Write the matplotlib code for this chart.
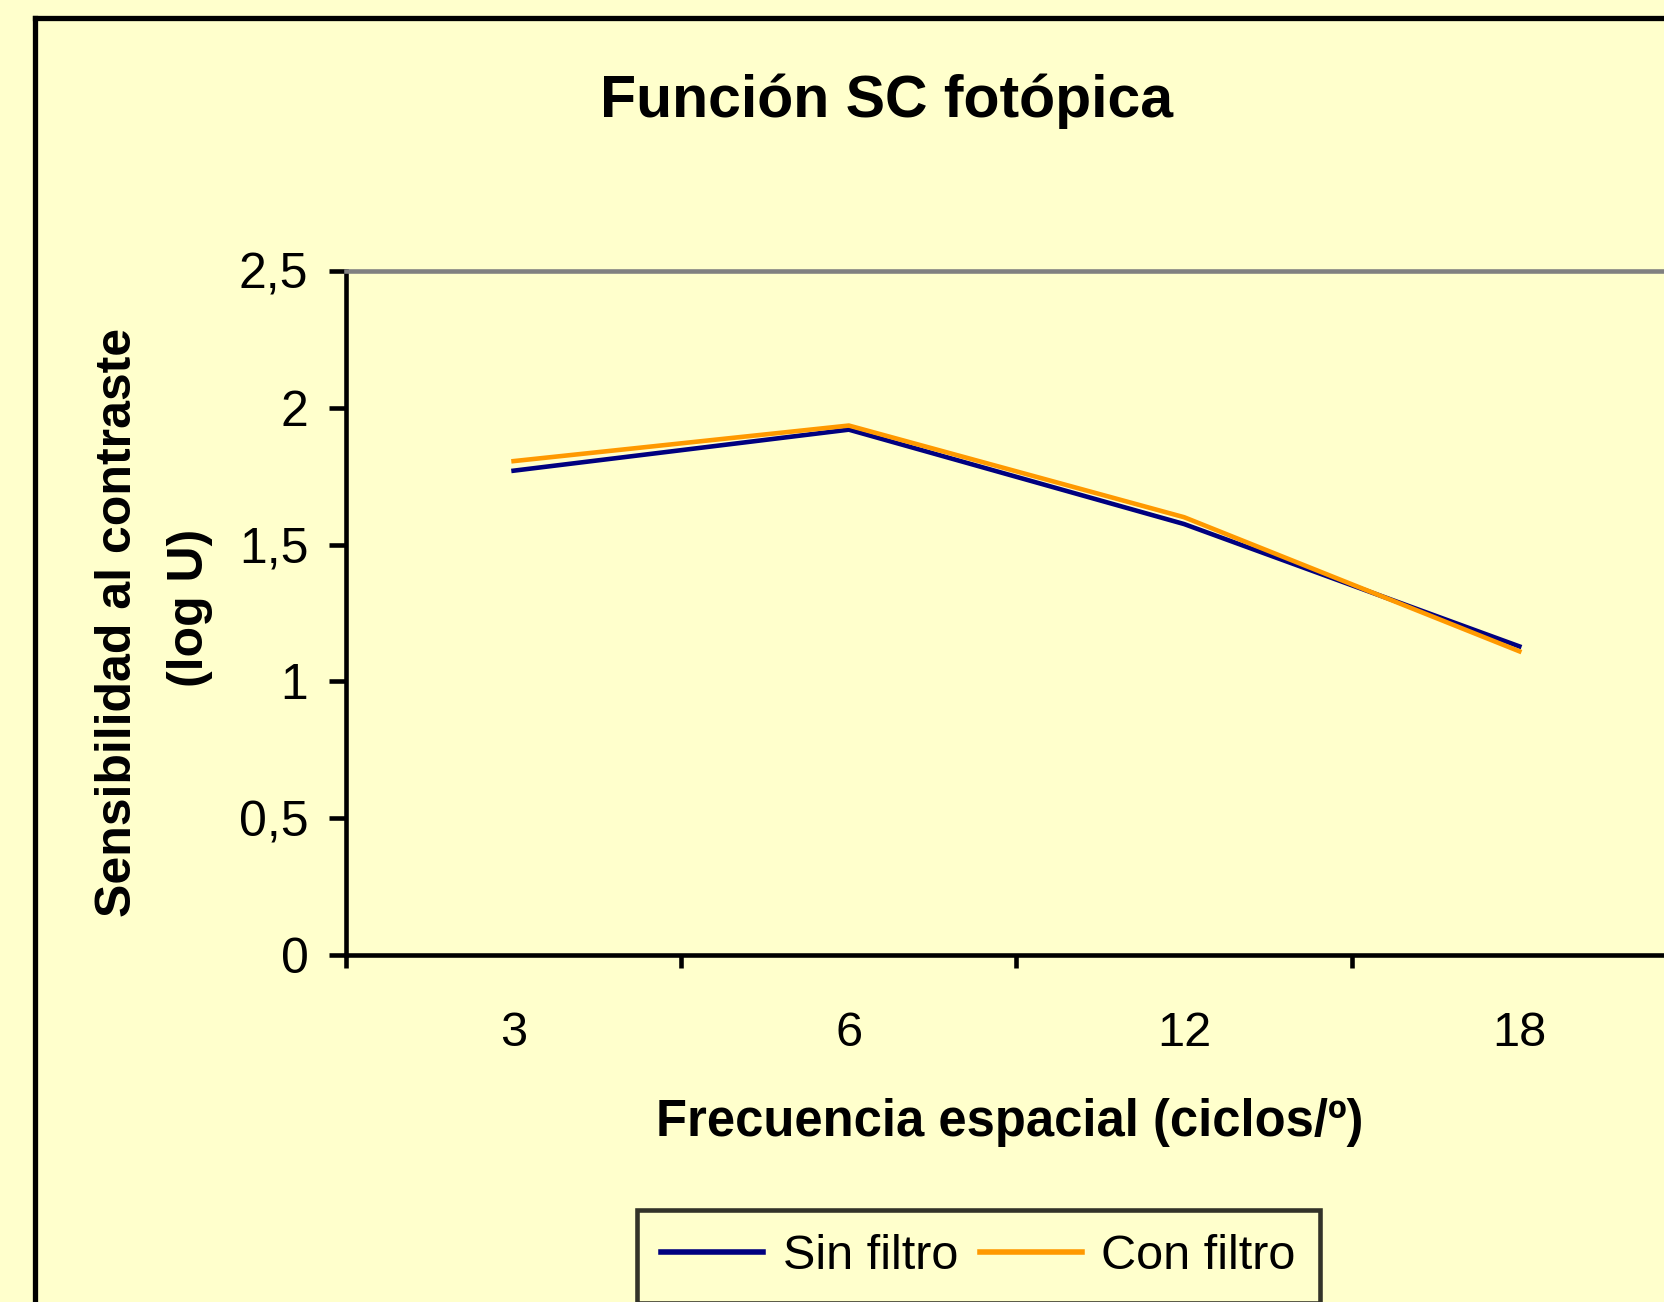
#!/usr/bin/env python3
"""Contrast sensitivity function (photopic), with and without filter."""

import matplotlib
matplotlib.use("Agg")
import matplotlib.pyplot as plt
from matplotlib.lines import Line2D

frequencies = ["3", "6", "12", "18"]
sin_filtro = [1.77, 1.92, 1.575, 1.128]
con_filtro = [1.805, 1.935, 1.60, 1.11]
y_ticks = [0, 0.5, 1, 1.5, 2, 2.5]
y_tick_labels = ["0", "0,5", "1", "1,5", "2", "2,5"]

BG = "#FFFFCC"
NAVY = "#000080"
ORANGE = "#FF9900"

plt.rcParams["font.family"] = ["Liberation Sans", "DejaVu Sans"]

fig = plt.figure(figsize=(16.64, 13.02), dpi=100, facecolor=BG)

# outer chart border (runs off the right and bottom edges)
fig.add_artist(Line2D([0.021, 0.021], [-0.1, 0.986], color="black", lw=3.8,
                      transform=fig.transFigure, solid_capstyle="projecting"))
fig.add_artist(Line2D([0.021, 1.1], [0.986, 0.986], color="black", lw=3.8,
                      transform=fig.transFigure, solid_capstyle="projecting"))

ax = fig.add_axes([0.2079, 0.2665, 0.8059, 0.5254])
ax.set_facecolor(BG)

xs = list(range(len(frequencies)))
ax.plot(xs, sin_filtro, color=NAVY, lw=3.3, label="Sin filtro")
ax.plot(xs, con_filtro, color=ORANGE, lw=3.3, label="Con filtro")

ax.set_xlim(-0.5, len(frequencies) - 0.5)
ax.set_ylim(0, 2.5)

ax.set_xticks([i - 0.5 for i in range(len(frequencies) + 1)])
ax.set_xticklabels([])
ax.set_xticks(xs, minor=True)
ax.set_xticklabels(frequencies, minor=True, fontsize=35)
ax.tick_params(axis="x", which="major", direction="out", length=9, width=3.3)
ax.tick_params(axis="x", which="minor", length=0, pad=40)

ax.set_yticks(y_ticks)
ax.set_yticklabels(y_tick_labels, fontsize=36)
ax.tick_params(axis="y", direction="out", length=12, width=3.3, pad=15)

for side in ("left", "bottom"):
    ax.spines[side].set_linewidth(3.3)
    ax.spines[side].set_color("black")
ax.spines["top"].set_color("#808080")
ax.spines["top"].set_linewidth(3.3)
ax.spines["right"].set_visible(False)

fig.text(0.5325, 0.922, "Función SC fotópica", ha="center", va="center",
         fontsize=42.5, fontweight="bold")
fig.text(0.607, 0.1375, "Frecuencia espacial (ciclos/º)", ha="center",
         va="center", fontsize=36.5, fontweight="bold")
fig.text(0.071, 0.522, "Sensibilidad al contraste", ha="center", va="center",
         rotation=90, fontsize=36, fontweight="bold")
fig.text(0.114, 0.533, "(log U)", ha="center", va="center",
         rotation=90, fontsize=36, fontweight="bold")

leg = fig.legend(loc="center", bbox_to_anchor=(0.588, 0.035), ncol=2,
                 fontsize=35, frameon=True, fancybox=False, handlelength=2.1,
                 columnspacing=0.45, handletextpad=0.4, borderpad=0.5)
leg.get_frame().set_facecolor(BG)
leg.get_frame().set_edgecolor("black")
leg.get_frame().set_linewidth(3.3)
for handle in leg.get_lines():
    handle.set_linewidth(4)

fig.savefig("out.png", dpi=100, facecolor=BG)
